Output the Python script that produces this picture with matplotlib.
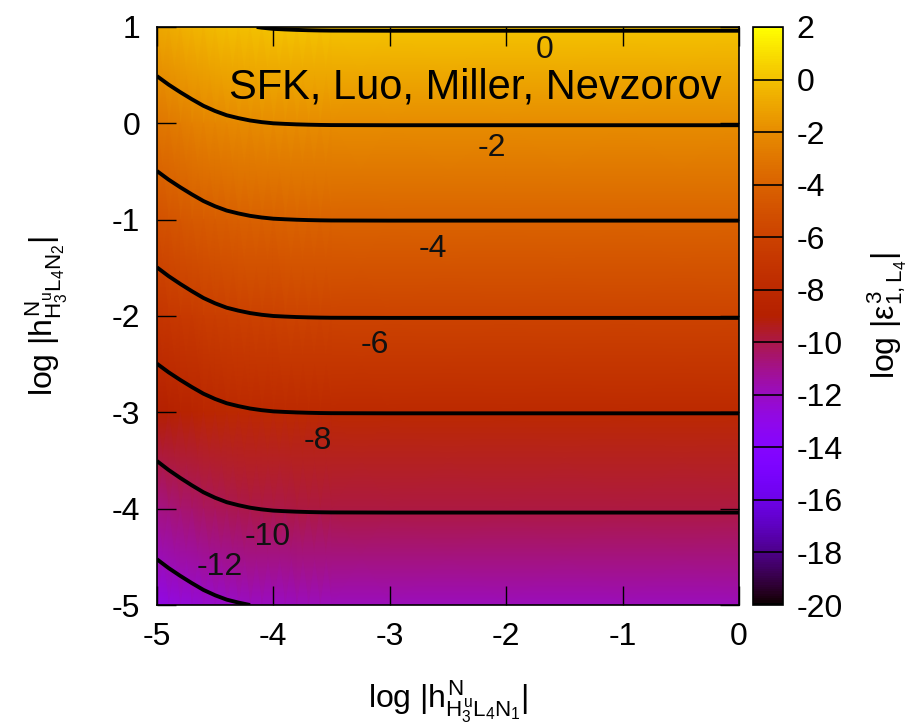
import numpy as np
import matplotlib
matplotlib.use('Agg')
import matplotlib.pyplot as plt

plt.rcParams['font.family'] = ['Liberation Sans', 'DejaVu Sans']
plt.rcParams['mathtext.fontset'] = 'custom'
plt.rcParams['mathtext.rm'] = 'Liberation Sans'
plt.rcParams['mathtext.it'] = 'Liberation Sans'
plt.rcParams['mathtext.bf'] = 'Liberation Sans:bold'
plt.rcParams['axes.unicode_minus'] = False

# x = log|h_{H3 L4 N1}|, columns of the field; shift
x_vals = [-5.0, -4.9, -4.8, -4.7, -4.6, -4.5, -4.4, -4.3, -4.2, -4.1, -4.0, -3.9, -3.8, -3.7,
          -3.6, -3.5, -3.0, -2.0, -1.0, 0.0]
x_shift = [-1.04, -0.86, -0.70, -0.55, -0.41, -0.30, -0.21, -0.15, -0.10, -0.065, -0.04, -0.028,
           -0.018, -0.011, -0.006, -0.003, 0.0, 0.0, 0.0, 0.0]

# y = log|h_{H3 L4 N2}|, rows; value of log|eps| at the right edge
y_vals = [1, 0, -1, -2, -3, -4, -5]
y_base = [0.08, -1.96, -3.98, -5.96, -7.98, -9.92, -11.9]

levels = [-12, -10, -8, -6, -4, -2, 0]
cbar_ticks = list(range(-20, 3, 2))

# where gnuplot put the contour labels
label_pos = {0: (-1.67, 0.76), -2: (-2.12, -0.26), -4: (-2.63, -1.30), -6: (-3.13, -2.30),
             -8: (-3.62, -3.30), -10: (-4.05, -4.29), -12: (-4.46, -4.61)}

X, Y = np.meshgrid(x_vals, y_vals)
Z = np.array(y_base)[:, None] + np.array(x_shift)[None, :]

fig = plt.figure(figsize=(9.23, 7.25), dpi=100)
ax = fig.add_axes([0.170, 0.1655, 0.6307, 0.7973])
cax = fig.add_axes([0.8158, 0.1655, 0.0325, 0.7973])

mesh = ax.pcolormesh(X, Y, Z, cmap='gnuplot', vmin=-20, vmax=2, shading='gouraud')
ax.contour(X, Y, Z, levels=levels, colors='black', linewidths=2.8, linestyles='solid')

for lev, (lx, ly) in label_pos.items():
    ax.text(lx, ly, str(lev), fontsize=23, ha='center', va='center', color='#111111')

ax.text(-0.146, 0.37, 'SFK, Luo, Miller, Nevzorov', fontsize=30, ha='right', va='center')

ax.set_xlim(-5, 0)
ax.set_ylim(-5, 1)
ax.set_xticks([-5, -4, -3, -2, -1, 0])
ax.set_yticks([-5, -4, -3, -2, -1, 0, 1])
ax.tick_params(direction='in', length=14, width=1, top=True, right=True, labelsize=23, pad=12)
for sp in ax.spines.values():
    sp.set_linewidth(1.2)

ax.set_xlabel(r'log $|h^{N}_{H^{u}_{3}L_{4}N_{1}}|$', fontsize=23, labelpad=20)
ax.set_ylabel(r'log $|h^{N}_{H^{u}_{3}L_{4}N_{2}}|$', fontsize=23, labelpad=30)

cb = fig.colorbar(mesh, cax=cax, ticks=cbar_ticks)
cb.ax.tick_params(length=0, labelsize=23, pad=10)
for t in cbar_ticks:
    cb.ax.axhline(t, color='black', lw=1.2)
cb.outline.set_linewidth(1.2)
cb.set_label(r'log $|ε^{3}_{1,L_{4}}|$', fontsize=23, labelpad=16)

fig.savefig('out.png', dpi=100)
